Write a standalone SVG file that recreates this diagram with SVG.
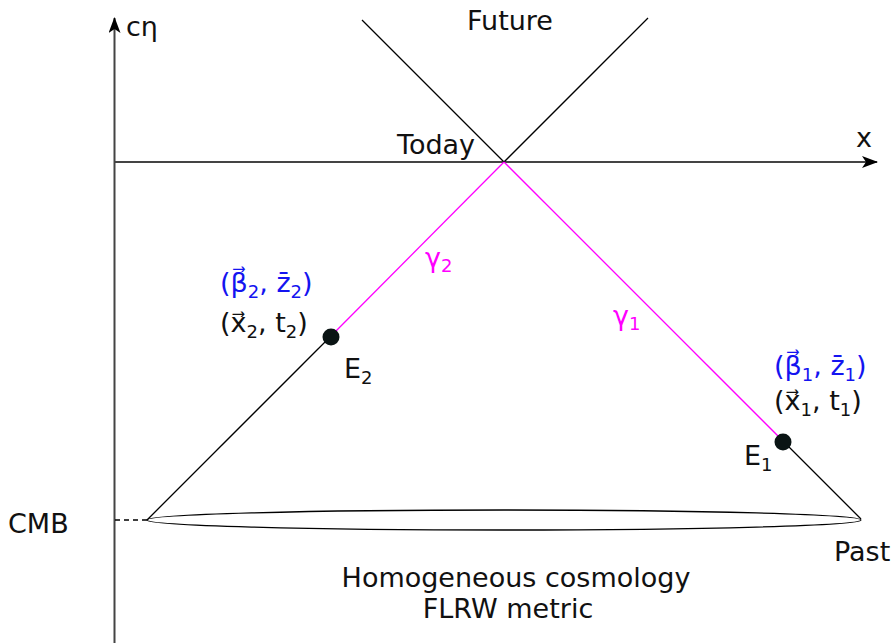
<svg xmlns="http://www.w3.org/2000/svg" width="894" height="643" viewBox="0 0 894 643">
<style>
text{font-family:"DejaVu Sans","Noto Sans",sans-serif;font-size:27px;fill:#111}
.blue{fill:#1414f0}
.mag{fill:#f0f}
.sub{font-size:18px}
.ln{stroke:#000;stroke-width:1.3;fill:none}
.ax{stroke:#444;stroke-width:2;fill:none}
.pk{stroke:#f0f;stroke-width:1.3;fill:none}
</style>
<defs>
<marker id="ah" viewBox="0 0 16 12" refX="15" refY="6" markerWidth="16" markerHeight="12" markerUnits="userSpaceOnUse" orient="auto">
<path d="M0,0 L16,6 L0,12 L4,6 Z" fill="#000"/>
</marker>
</defs>
<g id="connectors">
<line class="ax" x1="114.5" y1="643" x2="114.5" y2="18" marker-end="url(#ah)"/>
<line class="ax" x1="114.5" y1="162" x2="877" y2="162" marker-end="url(#ah)"/>
<line class="ln" x1="362" y1="20" x2="504" y2="162"/>
<line class="ln" x1="648" y1="18" x2="504" y2="162"/>
<line class="pk" x1="504" y1="162" x2="331" y2="336"/>
<line class="pk" x1="504" y1="162" x2="783" y2="441"/>
<line class="ln" x1="331" y1="336" x2="147" y2="520"/>
<line class="ln" x1="783" y1="441" x2="861" y2="519"/>
<line class="ln" x1="115" y1="520" x2="147" y2="520" stroke-dasharray="5,4"/>
</g>
<g id="cmb-surface">
<ellipse class="ln" cx="504" cy="520" rx="357" ry="10"/>
</g>
<g id="E2">
<circle cx="331" cy="337" r="8.5" fill="#0a1414"/>
<text x="344" y="378">E<tspan class="sub" dy="6">2</tspan></text>
<text class="blue" x="220" y="292">(β⃗<tspan class="sub" dy="6">2</tspan><tspan dy="-6">, z̄</tspan><tspan class="sub" dy="6">2</tspan><tspan dy="-6">)</tspan></text>
<text x="220" y="332">(x⃗<tspan class="sub" dy="6">2</tspan><tspan dy="-6">, t</tspan><tspan class="sub" dy="6">2</tspan><tspan dy="-6">)</tspan></text>
</g>
<g id="E1">
<circle cx="783" cy="442" r="8.5" fill="#0a1414"/>
<text x="744" y="465">E<tspan class="sub" dy="6">1</tspan></text>
<text class="blue" x="774" y="375">(β⃗<tspan class="sub" dy="6">1</tspan><tspan dy="-6">, z̄</tspan><tspan class="sub" dy="6">1</tspan><tspan dy="-6">)</tspan></text>
<text x="774" y="410">(x⃗<tspan class="sub" dy="6">1</tspan><tspan dy="-6">, t</tspan><tspan class="sub" dy="6">1</tspan><tspan dy="-6">)</tspan></text>
</g>
<g id="labels">
<text x="126" y="36">cη</text>
<text x="856" y="147">x</text>
<text x="510" y="30" text-anchor="middle">Future</text>
<text x="397" y="154">Today</text>
<text class="mag" x="425" y="267">γ<tspan class="sub" dy="5">2</tspan></text>
<text class="mag" x="613" y="325">γ<tspan class="sub" dy="5">1</tspan></text>
<text x="8" y="533">CMB</text>
<text x="834" y="561">Past</text>
<text x="516" y="587" text-anchor="middle">Homogeneous cosmology</text>
<text x="508" y="618" text-anchor="middle">FLRW metric</text>
</g>
</svg>
